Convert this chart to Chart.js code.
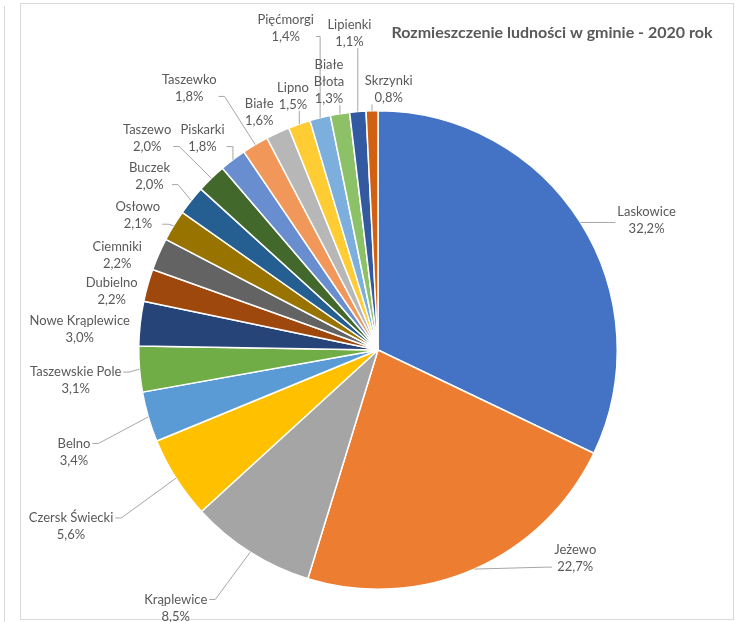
<!DOCTYPE html>
<html lang="pl">

<head>
    <meta charset="UTF-8">
    <title>Rozmieszczenie ludności w gminie - 2020 rok</title>
    <script src="https://cdn.jsdelivr.net/npm/chart.js"></script>
    <style>
        body,
        html {
            margin: 0;
            width: 735px;
            height: 622px;
            overflow: hidden;
            background: #fff;
        }

        #outer {
            position: absolute;
            left: 4px;
            top: 6px;
            width: 0;
            height: 640px;
            border-left: 1px solid #d9d9d9;
        }

        #frame {
            position: absolute;
            left: 20px;
            top: 3px;
            width: 712px;
            height: 615px;
            border: 1px solid #d9d9d9;
        }

        #wrap {
            position: absolute;
            left: 0;
            top: 0;
            width: 735px;
            height: 622px;
        }
    </style>
</head>

<body>
    <div id="outer"></div>
    <div id="frame"></div>
    <div id="wrap"><canvas id="pieChart"></canvas></div>
    <script>
        const titleText = 'Rozmieszczenie ludności w gminie - 2020 rok';

        const places = ['Laskowice', 'Jeżewo', 'Krąplewice', 'Czersk Świecki', 'Belno', 'Taszewskie Pole',
            'Nowe Krąplewice', 'Dubielno', 'Ciemniki', 'Osłowo', 'Buczek', 'Taszewo', 'Piskarki', 'Taszewko',
            'Białe', 'Lipno', 'Pięćmorgi', 'Białe\nBłota', 'Lipienki', 'Skrzynki'];

        const shares = [32.2, 22.7, 8.5, 5.6, 3.4, 3.1, 3.0, 2.2, 2.2, 2.1, 2.0, 2.0, 1.8, 1.8, 1.6, 1.5, 1.4, 1.3, 1.1, 0.8];

        const colors = ['#4472C4', '#ED7D31', '#A5A5A5', '#FFC000', '#5B9BD5', '#70AD47', '#264478', '#9E480E',
            '#636363', '#997300', '#255E91', '#43682B', '#698ED0', '#F1975A', '#B7B7B7', '#FFCD33', '#7CAFDD',
            '#8CC168', '#335AA1', '#D26012'];

        // label placement relative to each slice: [angle shift in deg, distance in radii, leader line]
        const labelLayout = [
            [6.5, 1.246, 1], [-19.7, 1.20, 1], [5.8, 1.37, 1], [2.5, 1.48, 1], [-2.3, 1.34, 1],
            [-1.2, 1.27, 1], [-2.4, 1.25, 0], [-3.3, 1.14, 0], [-3.6, 1.16, 0], [-2.1, 1.15, 1],
            [-1.4, 1.20, 1], [-3.3, 1.31, 1], [-2.3, 1.15, 1], [-4.9, 1.35, 1], [-1.8, 1.11, 0],
            [0.7, 1.12, 1], [-2.0, 1.40, 1], [-1.2, 1.14, 1], [-0.3, 1.33, 1], [3.8, 1.09, 1]
        ];

        const labelFont = '13px Lato';
        const lineH = 17;

        const pieLabels = {
            id: 'pieLabels',
            afterDatasetsDraw(chart) {
                const ctx = chart.ctx;
                const meta = chart.getDatasetMeta(0);
                ctx.save();
                ctx.font = labelFont;
                ctx.textAlign = 'center';
                ctx.textBaseline = 'middle';
                meta.data.forEach((arc, i) => {
                    const p = arc.getProps(['x', 'y', 'startAngle', 'endAngle', 'outerRadius'], true);
                    const mid = (p.startAngle + p.endAngle) / 2;
                    const [shift, dist, leader] = labelLayout[i];
                    const a = mid + shift * Math.PI / 180;
                    const lx = p.x + Math.cos(a) * p.outerRadius * dist;
                    const ly = p.y + Math.sin(a) * p.outerRadius * dist;
                    const lines = places[i].split('\n');
                    lines.push(shares[i].toFixed(1).replace('.', ',') + '%');
                    const w = Math.max(...lines.map(t => ctx.measureText(t).width));
                    const left = lx - w / 2, right = lx + w / 2;
                    const top = ly - lines.length * lineH / 2, bottom = ly + lines.length * lineH / 2;

                    if (leader) {
                        const px = p.x + Math.cos(mid) * p.outerRadius;
                        const py = p.y + Math.sin(mid) * p.outerRadius;
                        ctx.strokeStyle = '#a6a6a6';
                        ctx.lineWidth = 1;
                        ctx.beginPath();
                        ctx.moveTo(px, py);
                        if (px >= left && px <= right) {
                            ctx.lineTo(px, py < top ? top + 2 : bottom - 2);
                        } else {
                            const toRight = px > right;
                            const ex = toRight ? right + 2 : left - 2;
                            const ey = Math.min(Math.max(py, top + lineH / 2), bottom - lineH / 2);
                            if (Math.abs(py - ey) > 2 * Math.abs(px - ex)) {
                                ctx.lineTo(px, ey);
                            } else {
                                ctx.lineTo(ex + (toRight ? 6 : -6), ey);
                            }
                            ctx.lineTo(ex, ey);
                        }
                        ctx.stroke();
                    }

                    ctx.fillStyle = '#595959';
                    lines.forEach((t, k) => {
                        ctx.fillText(t, lx, top + lineH / 2 + k * lineH);
                    });
                });

                ctx.font = 'bold 16px Lato';
                ctx.fillStyle = '#595959';
                ctx.fillText(titleText, 552, 33);
                ctx.restore();
            }
        };

        const ctx = document.getElementById('pieChart').getContext('2d');
        new Chart(ctx, {
            type: 'pie',
            data: {
                labels: places,
                datasets: [{
                    data: shares,
                    backgroundColor: colors,
                    borderColor: '#ffffff',
                    borderWidth: 1.5
                }]
            },
            options: {
                responsive: true,
                maintainAspectRatio: false,
                animation: false,
                layout: {
                    padding: { left: 138, right: 117, top: 110, bottom: 32 }
                },
                plugins: {
                    legend: { display: false },
                    tooltip: { enabled: false },
                    title: { display: false }
                }
            },
            plugins: [pieLabels]
        });
    </script>
</body>

</html>
